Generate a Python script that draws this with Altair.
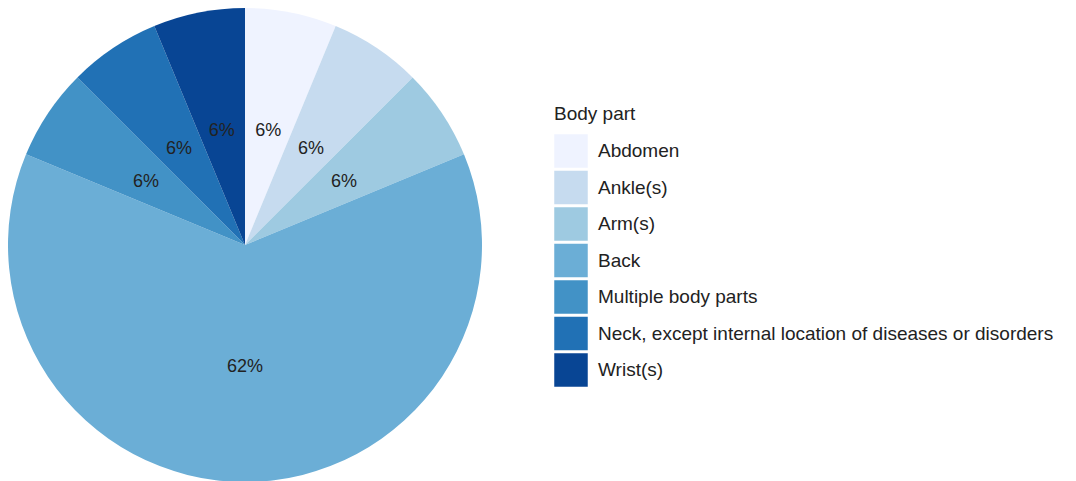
import altair as alt
import pandas as pd

parts = ["Abdomen", "Ankle(s)", "Arm(s)", "Back", "Multiple body parts",
         "Neck, except internal location of diseases or disorders", "Wrist(s)"]
counts = [1, 1, 1, 10, 1, 1, 1]
colors = ["#eff3ff", "#c6dbef", "#9ecae1", "#6baed6", "#4292c6", "#2171b5", "#084594"]

total = sum(counts)
df = pd.DataFrame({
    "part": parts,
    "count": counts,
    "order": list(range(len(parts))),
    "label": [f"{int(c / total * 100)}%" for c in counts],
})

base = alt.Chart(df).encode(
    theta=alt.Theta("count:Q", stack=True),
    order=alt.Order("order:Q"),
)

pie = base.mark_arc(radius=237, strokeWidth=0).encode(
    x=alt.value(237), y=alt.value(237),
    color=alt.Color(
        "part:N",
        scale=alt.Scale(domain=parts, range=colors),
        sort=parts,
        legend=alt.Legend(
            title="Body part", orient="none", legendX=546, legendY=97,
            symbolType="square", symbolSize=1122, symbolStrokeWidth=0,
            symbolOpacity=1, labelFontSize=19, titleFontSize=19,
            titleFontWeight="normal", labelFont="Liberation Sans",
            titleFont="Liberation Sans", labelColor="#222222",
            titleColor="#222222", rowPadding=2.5, labelOffset=10,
            titlePadding=10, labelLimit=700,
        ),
    ),
)

text = base.mark_text(radius=119, dy=3, fontSize=18, font="Liberation Sans",
                      color="#222222").encode(
    x=alt.value(237), y=alt.value(237),
    text="label:N",
)

chart = (pie + text).properties(
    width=1060, height=473,
    autosize=alt.AutoSizeParams(type="none"),
    padding=0,
).configure(
    background="white",
    view=alt.ViewConfig(stroke="transparent", strokeWidth=0),
)

chart.save("out.html", embed_options={"renderer": "svg", "actions": False})
